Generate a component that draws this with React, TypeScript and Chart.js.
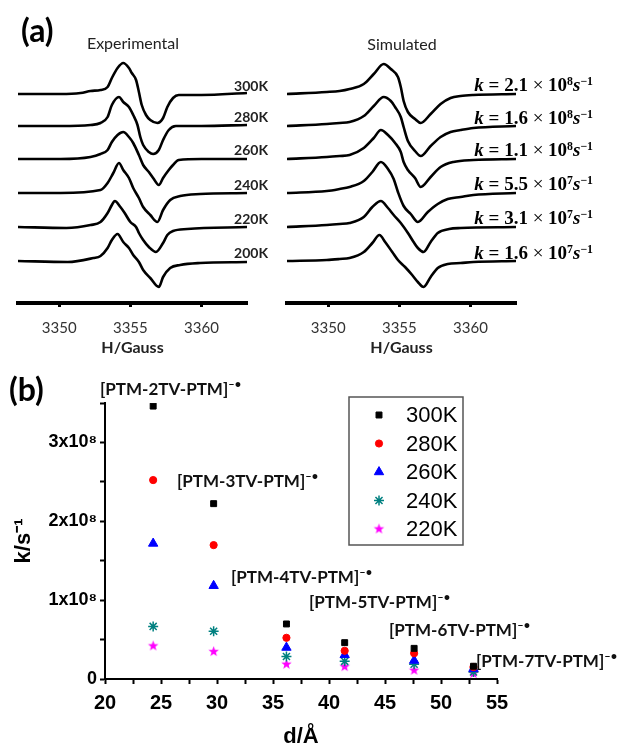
import React, { useEffect, useRef } from 'react';
import { Chart, registerables } from 'chart.js';
import { drawPoint } from 'chart.js/helpers';

Chart.register(...registerables);

// ---------- Panel (a): EPR spectra ----------
const H_MIN = 3347.1;
const H_MAX = 3363.2;
const TEMPS_A = ['300K', '280K', '260K', '240K', '220K', '200K'];
const K_MANT = ['2.1', '1.6', '1.1', '5.5', '3.1', '1.6'];
const K_EXP = ['8', '8', '8', '7', '7', '7'];
// vertical stacking offsets of each trace (intensity units)
const OFFSETS = [0, -32, -65, -99, -133, -167];

// Experimental traces (field in Gauss, derivative intensity)
const EXP_H_300 = [3347.1, 3350.1, 3351.5, 3352.2, 3352.9, 3353.4, 3353.7, 3354.1, 3354.5, 3354.9, 3355.1, 3355.4, 3355.6, 3355.8, 3356.1, 3356.4, 3356.9, 3357.3, 3357.6, 3358.0, 3358.4, 3360.0, 3363.2];
const EXP_I_300 = [0, 0, 1, 3, 4, 7, 16, 26, 31, 26, 21, 14, 2, -11, -21, -26, -29, -24, -13, -4, -1, -1, 1];
const EXP_H_280 = [3347.1, 3350.1, 3352.2, 3352.9, 3353.4, 3353.7, 3354.2, 3354.5, 3354.9, 3355.2, 3355.5, 3355.7, 3355.9, 3356.3, 3356.6, 3357.0, 3357.3, 3357.7, 3358.2, 3360.0, 3363.2];
const EXP_I_280 = [0, 0, 1, 3, 9, 21, 29, 24, 19, 11, 1, -11, -19, -26, -28, -24, -14, -4, 0, 0, 1];
const EXP_H_260 = [3347.1, 3350.1, 3352.2, 3352.9, 3353.4, 3353.7, 3354.1, 3354.5, 3354.9, 3355.2, 3355.6, 3355.9, 3356.3, 3356.6, 3357.0, 3357.3, 3357.7, 3358.0, 3358.4, 3360.0, 3363.2];
const EXP_I_260 = [0, 0, 2, 5, 9, 17, 24, 27, 22, 16, 4, -6, -13, -19, -26, -19, -11, -6, -1, 0, 0];
const EXP_H_240 = [3347.1, 3350.1, 3352.9, 3353.4, 3353.8, 3354.2, 3354.5, 3354.9, 3355.2, 3355.6, 3355.9, 3356.4, 3356.9, 3357.3, 3357.8, 3358.5, 3359.9, 3363.2];
const EXP_I_240 = [0, 0, 3, 10, 20, 30, 23, 15, 5, -5, -14, -22, -29, -17, -7, -3, -1, 0];
const EXP_H_220 = [3347.1, 3350.5, 3352.2, 3352.9, 3353.4, 3353.7, 3353.9, 3354.3, 3354.6, 3355.0, 3355.4, 3355.6, 3355.9, 3356.3, 3356.8, 3357.3, 3357.6, 3358.0, 3359.0, 3363.2];
const EXP_I_220 = [0, -1, 2, 5, 14, 22, 26, 20, 14, 5, 0, -6, -13, -20, -25, -16, -8, -4, -2, 0];
const EXP_H_200 = [3347.1, 3350.6, 3352.4, 3352.9, 3353.4, 3353.7, 3354.1, 3354.5, 3354.9, 3355.2, 3355.6, 3355.9, 3356.4, 3357.0, 3357.3, 3357.8, 3358.5, 3359.9, 3363.2];
const EXP_I_200 = [0, -1, 3, 5, 13, 21, 27, 19, 13, 6, -1, -9, -17, -26, -16, -7, -4, -2, -1];

// Simulated traces
const SIM_H_300 = [3347.1, 3349.9, 3350.8, 3351.5, 3352.5, 3353.2, 3353.9, 3354.4, 3354.9, 3355.1, 3355.3, 3355.6, 3356.1, 3356.5, 3357.2, 3357.9, 3358.6, 3359.3, 3360.2, 3363.2];
const SIM_I_300 = [0, 2, 3, 5, 10, 20, 30, 25, 17, 7, -7, -18, -25, -29, -20, -10, -4, -2, -1, 0];
const SIM_H_280 = [3347.1, 3349.9, 3350.8, 3351.5, 3352.5, 3353.2, 3353.9, 3354.4, 3354.7, 3355.1, 3355.3, 3355.6, 3356.1, 3356.5, 3357.2, 3357.9, 3358.6, 3359.3, 3360.2, 3363.2];
const SIM_I_280 = [0, 2, 3, 4, 10, 20, 29, 25, 19, 9, -1, -15, -25, -30, -20, -11, -6, -4, -2, 0];
const SIM_H_260 = [3347.1, 3349.9, 3350.8, 3351.5, 3352.5, 3353.2, 3353.7, 3354.2, 3354.7, 3355.1, 3355.3, 3355.6, 3356.1, 3356.5, 3357.2, 3357.9, 3358.8, 3360.2, 3363.2];
const SIM_I_260 = [0, 2, 3, 4, 11, 21, 29, 24, 16, 7, -3, -11, -19, -28, -18, -8, -3, -1, 0];
const SIM_H_240 = [3347.1, 3349.9, 3350.8, 3351.5, 3352.5, 3353.1, 3353.7, 3354.2, 3354.6, 3354.9, 3355.3, 3355.8, 3356.3, 3357.0, 3357.7, 3358.4, 3359.3, 3360.2, 3363.2];
const SIM_I_240 = [0, 2, 4, 6, 12, 21, 31, 24, 14, 1, -13, -21, -29, -19, -11, -6, -4, -2, 0];
const SIM_H_220 = [3347.1, 3349.9, 3350.8, 3351.5, 3352.5, 3353.1, 3353.7, 3354.2, 3354.6, 3355.1, 3355.6, 3356.0, 3356.3, 3356.7, 3357.2, 3357.7, 3358.5, 3359.3, 3363.2];
const SIM_I_220 = [0, 2, 3, 4, 10, 20, 26, 19, 12, 4, -6, -15, -21, -25, -15, -6, -2, -1, 0];
const SIM_H_200 = [3347.1, 3349.9, 3350.8, 3351.5, 3352.5, 3353.1, 3353.6, 3354.0, 3354.5, 3354.9, 3355.4, 3355.9, 3356.3, 3356.7, 3357.2, 3357.7, 3358.4, 3359.3, 3360.2, 3363.2];
const SIM_I_200 = [0, 1, 2, 3, 9, 18, 26, 19, 9, 1, -6, -14, -21, -26, -16, -7, -3, -2, -1, 0];

const EXP_H = [EXP_H_300, EXP_H_280, EXP_H_260, EXP_H_240, EXP_H_220, EXP_H_200];
const EXP_I = [EXP_I_300, EXP_I_280, EXP_I_260, EXP_I_240, EXP_I_220, EXP_I_200];
const SIM_H = [SIM_H_300, SIM_H_280, SIM_H_260, SIM_H_240, SIM_H_220, SIM_H_200];
const SIM_I = [SIM_I_300, SIM_I_280, SIM_I_260, SIM_I_240, SIM_I_220, SIM_I_200];

// ---------- Panel (b): k vs d ----------
const D_VALUES = [24.3, 29.7, 36.2, 41.4, 47.6, 52.9];
const TEMPS_B = ['300K', '280K', '260K', '240K', '220K'];
const K_300 = [3.32e8, 2.12e8, 0.64e8, 0.41e8, 0.34e8, 0.12e8];
const K_280 = [2.41e8, 1.61e8, 0.47e8, 0.31e8, 0.28e8, 0.11e8];
const K_260 = [1.63e8, 1.11e8, 0.35e8, 0.26e8, 0.19e8, 0.09e8];
const K_240 = [0.61e8, 0.55e8, 0.24e8, 0.18e8, 0.145e8, 0.05e8];
const K_220 = [0.37e8, 0.30e8, 0.145e8, 0.115e8, 0.07e8, 0.03e8];
const K_SERIES = [K_300, K_280, K_260, K_240, K_220];
const COLORS_B = ['#000000', '#ff0000', '#0000ff', '#008080', '#ff00ff'];
const COMPOUNDS = ['[PTM-2TV-PTM]', '[PTM-3TV-PTM]', '[PTM-4TV-PTM]', '[PTM-5TV-PTM]', '[PTM-6TV-PTM]', '[PTM-7TV-PTM]'];

const COMPOUND_POS = [
  { x: 100, y: 388 },
  { x: 177, y: 480 },
  { x: 231, y: 576 },
  { x: 309, y: 601 },
  { x: 389, y: 629 },
  { x: 476, y: 660 },
];

function makeStar(color: string, outer: number, inner: number) {
  const size = Math.ceil(outer * 2 + 2);
  const c = document.createElement('canvas');
  c.width = size;
  c.height = size;
  const g = c.getContext('2d')!;
  g.fillStyle = color;
  g.beginPath();
  for (let i = 0; i < 10; i++) {
    const r = i % 2 === 0 ? outer : inner;
    const a = -Math.PI / 2 + (i * Math.PI) / 5;
    const px = size / 2 + r * Math.cos(a);
    const py = size / 2 + r * Math.sin(a);
    if (i === 0) g.moveTo(px, py);
    else g.lineTo(px, py);
  }
  g.closePath();
  g.fill();
  return c;
}

function Txt({ x, y, align = 'left', style, children }: any) {
  const tx = align === 'left' ? '0' : align === 'right' ? '-100%' : '-50%';
  return (
    <div
      style={{
        position: 'absolute',
        left: x,
        top: y,
        transform: `translate(${tx}, -50%)`,
        whiteSpace: 'nowrap',
        lineHeight: 1,
        ...style,
      }}
    >
      {children}
    </div>
  );
}

function SpectrumPanel({ left, padL, padR, hs, is }: any) {
  const ref = useRef<HTMLCanvasElement>(null);
  useEffect(() => {
    const datasets = hs.map((h: number[], k: number) => ({
      data: h.map((x: number, j: number) => ({ x, y: is[k][j] + OFFSETS[k] })),
      borderColor: '#000',
      borderWidth: 2.6,
      pointRadius: 0,
      cubicInterpolationMode: 'monotone',
      fill: false,
    }));
    const chart = new Chart(ref.current!, {
      type: 'line',
      data: { datasets },
      options: {
        responsive: false,
        animation: false,
        maintainAspectRatio: false,
        layout: { padding: { left: padL, right: padR, top: 55, bottom: 12.4 } },
        plugins: { legend: { display: false }, tooltip: { enabled: false } },
        scales: {
          x: {
            type: 'linear',
            min: H_MIN,
            max: H_MAX,
            afterFit: (s: any) => {
              s.height = 54.6;
            },
            ticks: {
              stepSize: 5,
              includeBounds: false,
              padding: 12,
              color: '#333',
              maxRotation: 0,
              font: { family: 'Lato', size: 15 },
              callback: (v: any) => String(v),
            },
            grid: {
              display: true,
              drawOnChartArea: false,
              drawTicks: true,
              tickLength: 4,
              tickWidth: 3,
              tickColor: '#000',
            },
            border: { display: true, width: 4, color: '#000' },
            title: {
              display: true,
              text: 'H/Gauss',
              color: '#222',
              font: { family: 'Lato', size: 16, weight: 'bold' },
              padding: { top: 0, bottom: 0 },
            },
          },
          y: { display: false, min: -209, max: 39 },
        },
      } as any,
    });
    return () => chart.destroy();
  }, []);
  return <canvas ref={ref} width={265} height={370} style={{ position: 'absolute', left, top: 0 }} />;
}

function KPanel() {
  const ref = useRef<HTMLCanvasElement>(null);
  useEffect(() => {
    const star = makeStar('#ff00ff', 5.5, 2.3);
    const styles: any[] = ['rect', 'circle', 'triangle', 'star', star];
    const radii = [4.2, 3.6, 5.4, 5, 6];
    const legendPlugin = {
      id: 'boxLegend',
      afterDatasetsDraw(chart: any) {
        const { ctx, chartArea } = chart;
        const left = chartArea.left + 244;
        const top = chartArea.top - 6;
        ctx.save();
        ctx.strokeStyle = '#555';
        ctx.lineWidth = 1.5;
        ctx.strokeRect(left, top, 114, 148);
        chart.data.datasets.forEach((ds: any, i: number) => {
          const y = top + 18 + i * 28.5;
          ctx.fillStyle = ds.backgroundColor;
          ctx.strokeStyle = ds.borderColor;
          ctx.lineWidth = ds.borderWidth;
          drawPoint(ctx, { pointStyle: ds.pointStyle, radius: ds.pointRadius, rotation: 0, borderWidth: ds.borderWidth } as any, left + 30, y);
          ctx.fillStyle = '#000';
          ctx.font = '22px "Liberation Sans", Arial, sans-serif';
          ctx.textBaseline = 'middle';
          ctx.textAlign = 'left';
          ctx.fillText(ds.label, left + 57, y + 1);
        });
        ctx.restore();
      },
    };
    const chart = new Chart(ref.current!, {
      type: 'scatter',
      data: {
        datasets: TEMPS_B.map((t, k) => ({
          label: t,
          data: D_VALUES.map((d, j) => ({ x: d, y: K_SERIES[k][j] })),
          pointStyle: styles[k],
          pointRadius: radii[k],
          backgroundColor: COLORS_B[k],
          borderColor: COLORS_B[k],
          borderWidth: k === 3 ? 1.5 : 1,
        })),
      },
      options: {
        responsive: false,
        animation: false,
        maintainAspectRatio: false,
        layout: { padding: { left: 0, right: 128, top: 33, bottom: 0 } },
        plugins: { legend: { display: false }, tooltip: { enabled: false } },
        scales: {
          x: {
            type: 'linear',
            min: 20,
            max: 55,
            afterFit: (s: any) => {
              s.height = 71;
            },
            ticks: {
              stepSize: 2.5,
              autoSkip: false,
              maxRotation: 0,
              padding: 7,
              color: '#000',
              font: { family: 'Liberation Sans', size: 20, weight: 'bold' },
              callback: (v: any) => (Math.abs(v % 5) < 1e-9 ? String(v) : ''),
            },
            grid: { display: true, drawOnChartArea: false, tickLength: 5, tickWidth: 2, tickColor: '#000' },
            border: { display: true, width: 2, color: '#000' },
            title: {
              display: true,
              text: 'd/Å',
              color: '#000',
              font: { family: 'Liberation Sans', size: 22, weight: 'bold' },
              padding: { top: 0, bottom: 0 },
            },
          },
          y: {
            type: 'linear',
            min: -3.7e6,
            max: 3.358e8,
            afterFit: (s: any) => {
              s.width = 105;
            },
            ticks: {
              stepSize: 5e7,
              includeBounds: false,
              autoSkip: false,
              padding: 3,
              color: '#000',
              font: { family: 'Liberation Sans', size: 18, weight: 'bold' },
              callback: (v: any) => {
                const n = Math.round(v / 5e7);
                if (n % 2 !== 0) return '';
                return n === 0 ? '0' : `${n / 2}x10⁸`;
              },
            },
            grid: { display: true, drawOnChartArea: false, tickLength: 5, tickWidth: 2, tickColor: '#000' },
            border: { display: true, width: 2, color: '#000' },
            title: {
              display: true,
              text: 'k/s⁻¹',
              color: '#000',
              font: { family: 'Liberation Sans', size: 22, weight: 'bold' },
              padding: { top: 11, bottom: 0 },
            },
          },
        },
      } as any,
      plugins: [legendPlugin],
    });
    return () => chart.destroy();
  }, []);
  return <canvas ref={ref} width={625} height={380} style={{ position: 'absolute', left: 0, top: 370 }} />;
}

const supStyle: any = { fontSize: '0.62em', verticalAlign: '0.5em', lineHeight: 0 };

export default function App() {
  const tempY = [86, 117, 150, 185, 219, 253];
  const kY = [84, 117, 149, 183, 217, 252];
  return (
    <div
      style={{
        position: 'fixed',
        left: 0,
        top: 0,
        width: 625,
        height: 746,
        overflow: 'hidden',
        background: '#fff',
        fontFamily: 'Lato, sans-serif',
        color: '#111',
      }}
    >
      <SpectrumPanel left={0} padL={18} padR={18} hs={EXP_H} is={EXP_I} />
      <SpectrumPanel left={268} padL={19} padR={17} hs={SIM_H} is={SIM_I} />
      <KPanel />

      <Txt x={21} y={30} style={{ fontWeight: 'bold', fontSize: 32, color: '#000' }}>(a)</Txt>
      <Txt x={9} y={389} style={{ fontWeight: 'bold', fontSize: 32, color: '#000' }}>(b)</Txt>
      <Txt x={133} y={43} align="center" style={{ fontSize: 16, color: '#222' }}>Experimental</Txt>
      <Txt x={402} y={44} align="center" style={{ fontSize: 16, color: '#222' }}>Simulated</Txt>

      {TEMPS_A.map((t, i) => (
        <Txt key={t} x={268} y={tempY[i]} align="right" style={{ fontWeight: 'bold', fontSize: 14, color: '#222' }}>
          {t}
        </Txt>
      ))}
      {K_MANT.map((m, i) => (
        <Txt
          key={i}
          x={593}
          y={kY[i]}
          align="right"
          style={{ fontFamily: '"Liberation Serif", "DejaVu Serif", serif', fontWeight: 'bold', fontSize: 19, color: '#000' }}
        >
          <i>k</i> = {m} <span style={{ fontWeight: 'normal' }}>×</span> 10<sup style={supStyle}>{K_EXP[i]}</sup>
          <i>s</i>
          <sup style={supStyle}>−1</sup>
        </Txt>
      ))}

      {COMPOUNDS.map((c, i) => (
        <Txt key={c} x={COMPOUND_POS[i].x} y={COMPOUND_POS[i].y} style={{ fontWeight: 'bold', fontSize: 17, color: '#111' }}>
          {c}
          <sup style={{ fontSize: '0.65em', verticalAlign: '0.55em', lineHeight: 0 }}>–•</sup>
        </Txt>
      ))}
    </div>
  );
}
